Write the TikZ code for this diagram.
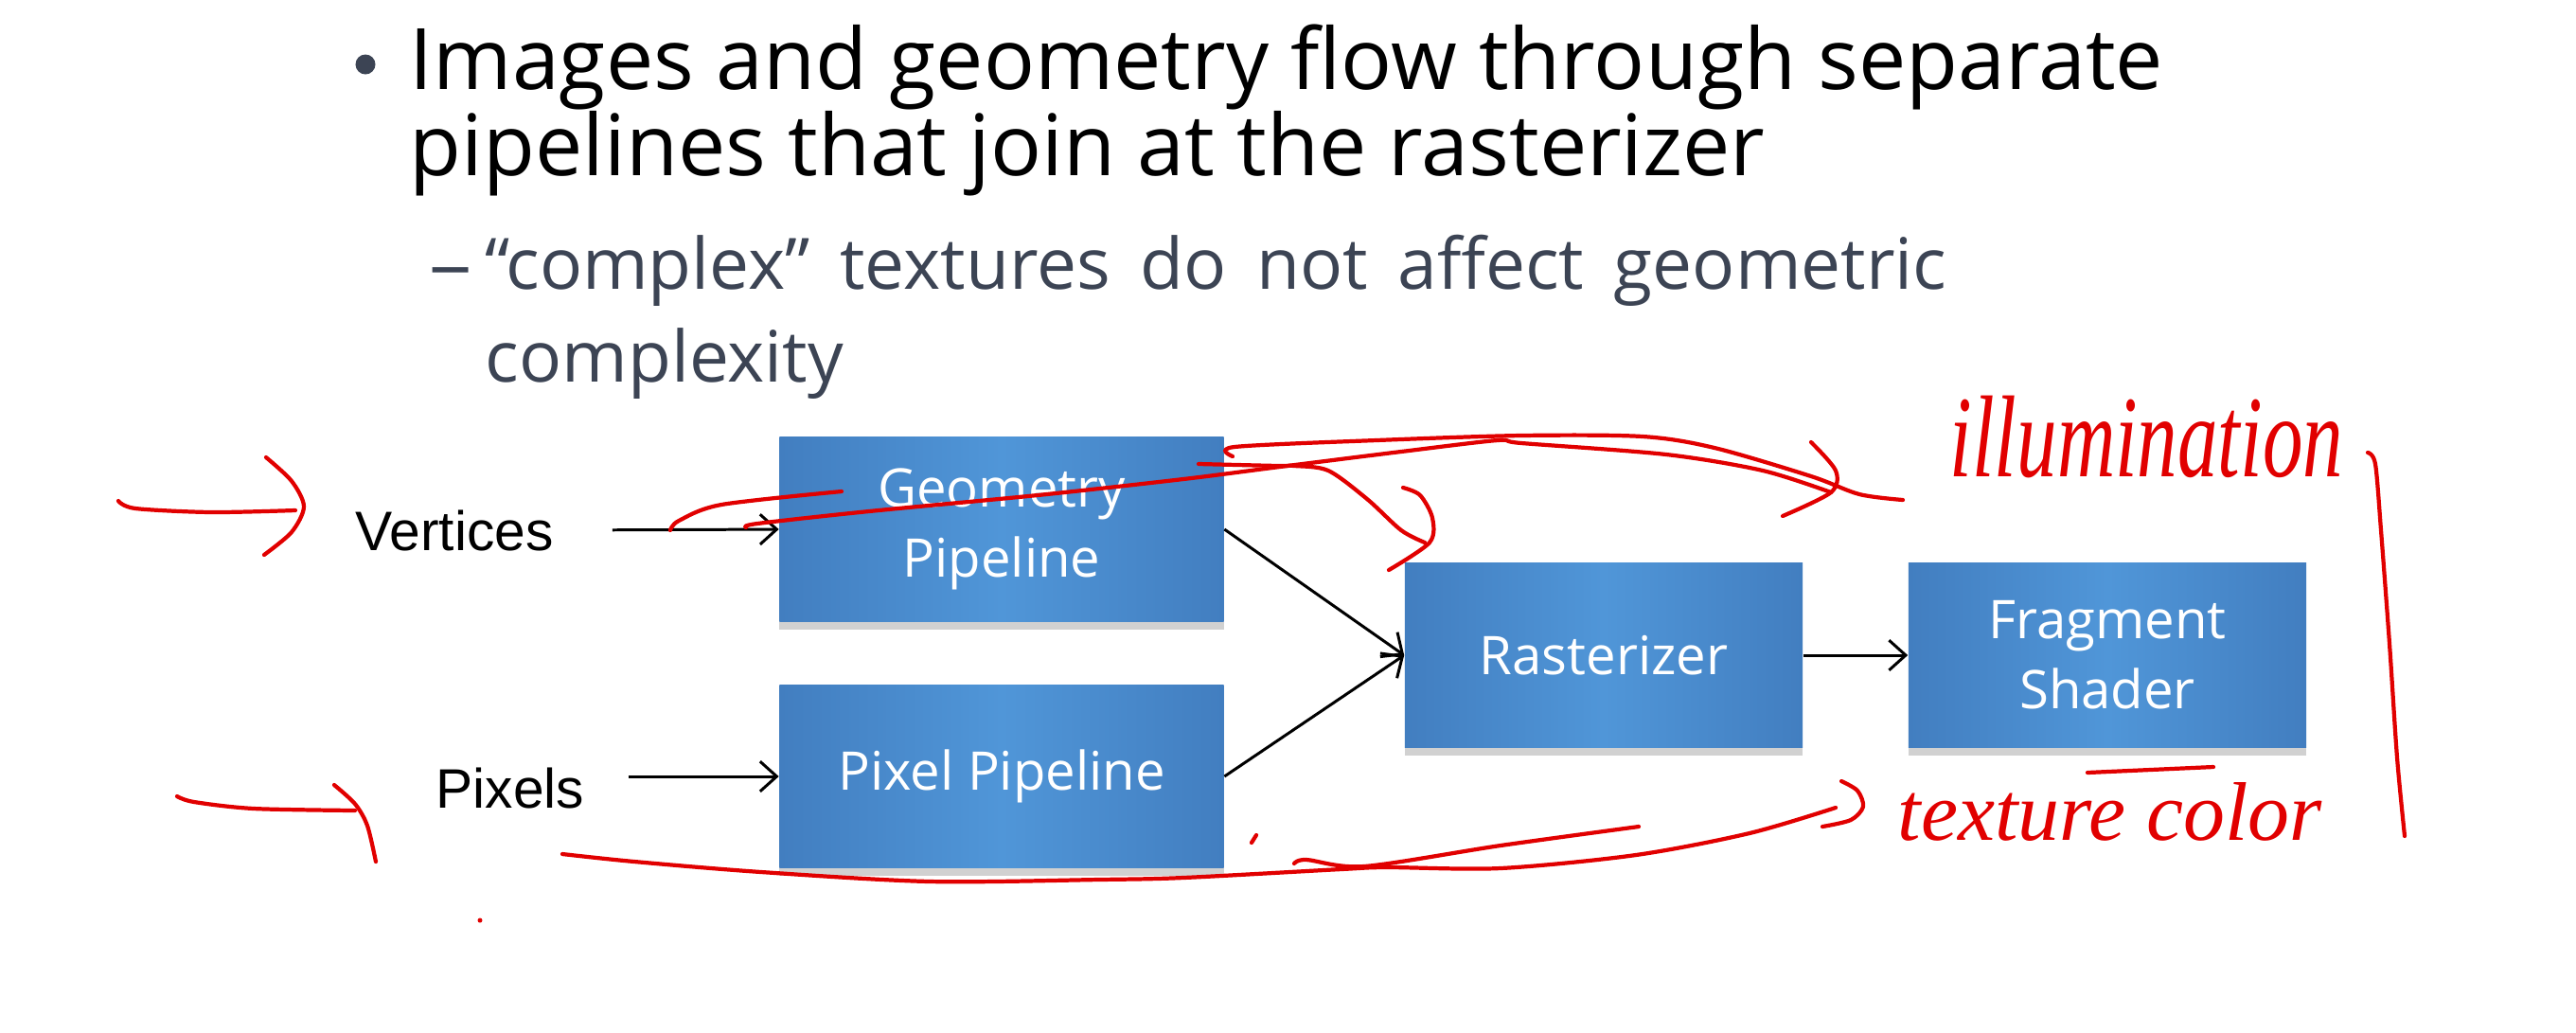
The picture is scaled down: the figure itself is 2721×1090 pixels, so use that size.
\documentclass[tikz,border=0pt]{standalone}
\usepackage{fontspec}
\setmainfont{Open Sans}
\newfontfamily\arialfont{Liberation Sans}
\newfontfamily\handfont{Liberation Serif}
\usetikzlibrary{arrows.meta,shadows}

\definecolor{boxblue}{RGB}{80,150,216}
\definecolor{boxedge}{RGB}{66,126,192}
\definecolor{subgray}{RGB}{60,68,84}
\definecolor{inkred}{RGB}{225,0,0}

\tikzset{
    stage/.style={left color=boxedge, right color=boxedge, middle color=boxblue,
        text=white, align=center, inner sep=0pt, font=\fontsize{16}{21}\selectfont,
        drop shadow={shadow xshift=0pt, shadow yshift=-2.5pt, opacity=0.3, fill=black!60}},
    inlabel/.style={inner sep=0pt, anchor=base west, font=\arialfont\fontsize{16.7}{20}\selectfont},
    headline/.style={inner sep=0pt, anchor=base west, font=\fontsize{25.5}{30}\selectfont},
    subline/.style={inner sep=0pt, anchor=base west, text=subgray, font=\fontsize{21.3}{26}\selectfont},
    hand/.style={inner sep=0pt, anchor=base west, text=inkred},
    flow/.style={line width=0.85pt, -{Straight Barb[length=5pt,width=9pt]}},
    redink/.style={inkred, line width=1.2pt, line cap=round, line join=round}
}

\begin{document}
\begin{tikzpicture}[x=0.01cm, y=-0.01cm]
            \useasboundingbox (0,0) rectangle (2721,1090);
            % slide text
            \node[circle, fill=subgray, minimum size=0.21cm, inner sep=0pt] (dot) at (386,68) {};
            \node[headline] (line1) at (432,94) {Images and geometry flow through separate};
            \node[headline] (line2) at (432,185) {pipelines that join at the rasterizer};
            \node[subline] (dash) at (455,305) {\scalebox{0.55}[1]{—}};
            \node[subline] (subline1) at (512,305) {\spaceskip=9pt\relax “complex” textures do not affect geometric};
            \node[subline] (subline2) at (512,403) {complexity};
            % pipeline
            \node[stage, minimum width=4.69cm, minimum height=1.94cm] (geompipe) at (1058,559) {Geometry\\Pipeline};
            \node[stage, minimum width=4.69cm, minimum height=1.92cm] (pixpipe) at (1058,820) {Pixel Pipeline};
            \node[stage, minimum width=4.2cm, minimum height=1.95cm] (raster) at (1694,692) {Rasterizer};
            \node[stage, minimum width=4.2cm, minimum height=1.95cm] (fragshader) at (2226,692) {Fragment\\Shader};
            \node[inlabel] (vertices) at (375,581) {Vertices};
            \node[inlabel] (pixels) at (460,853) {Pixels};
            \draw[flow, shorten <=17.5pt] (vertices.east) -- (geompipe.west);
            \draw[flow, shorten <=13pt] (pixels.east |- pixpipe.west) -- (pixpipe.west);
            \draw[flow] (geompipe.east) -- (raster.west);
            \draw[flow] (pixpipe.east) -- (raster.west);
            \draw[flow] (raster) -- (fragshader);
            % handwriting
            \node[hand, font=\handfont\itshape\fontsize{35}{40}\selectfont] (illum) at (2059,503) {\scalebox{0.69}[1]{illumination}};
            \node[hand, font=\handfont\itshape\fontsize{25}{30}\selectfont] (texcol) at (2004,887) {texture color};
            \draw[redink] plot[smooth] coordinates {(125,529) (143,537) (223,541) (312,539)};
            \draw[redink] plot[smooth] coordinates {(281,483) (308,508) (321,535) (308,562) (279,586)};
            \draw[redink] plot[smooth] coordinates {(187,841) (205,847) (268,854) (375,856)};
            \draw[redink] plot[smooth] coordinates {(353,829) (375,849) (388,872) (397,910)};
            \fill[inkred] (507,972) circle (0.025cm);
            \draw[redink] plot[smooth] coordinates {(708,560) (717,550) (762,533) (889,519)};
            \draw[redink] plot[smooth] coordinates {(788,557) (800,553) (918,540) (1096,523) (1250,506) (1352,493) (1480,477) (1582,465) (1607,468) (1760,480) (1862,497) (1934,520)};
            \draw[redink] plot[smooth] coordinates {(1302,482) (1304,472) (1454,465) (1607,460) (1735,461) (1811,473) (1913,503) (1964,522) (2010,528)};
            \draw[redink] plot[smooth] coordinates {(1266,490) (1350,492) (1367,492) (1403,497) (1444,527) (1480,560) (1505,573)};
            \draw[redink] plot[smooth] coordinates {(1482,515) (1500,523) (1513,547) (1510,573) (1467,602)};
            \draw[redink] plot[smooth] coordinates {(1913,467) (1939,497) (1934,520) (1883,545)};
            \draw[redink] plot[smooth] coordinates {(594,902) (670,910) (804,921) (982,931) (1161,929) (1250,927) (1417,918) (1465,916) (1585,917) (1728,903) (1848,880) (1939,853)};
            \draw[redink] plot[smooth] coordinates {(1945,825) (1962,835) (1968,852) (1955,866) (1925,873)};
            \draw[redink] plot[smooth] coordinates {(1367,912) (1380,908) (1441,915) (1585,893) (1731,873)};
            \draw[redink] (1322,890) -- (1327,882);
            \draw[redink] (2205,816) -- (2338,810);
            \draw[redink] plot[smooth] coordinates {(2501,478) (2509,490) (2515,560) (2524,680) (2532,800) (2540,883)};
\end{tikzpicture}
\end{document}
